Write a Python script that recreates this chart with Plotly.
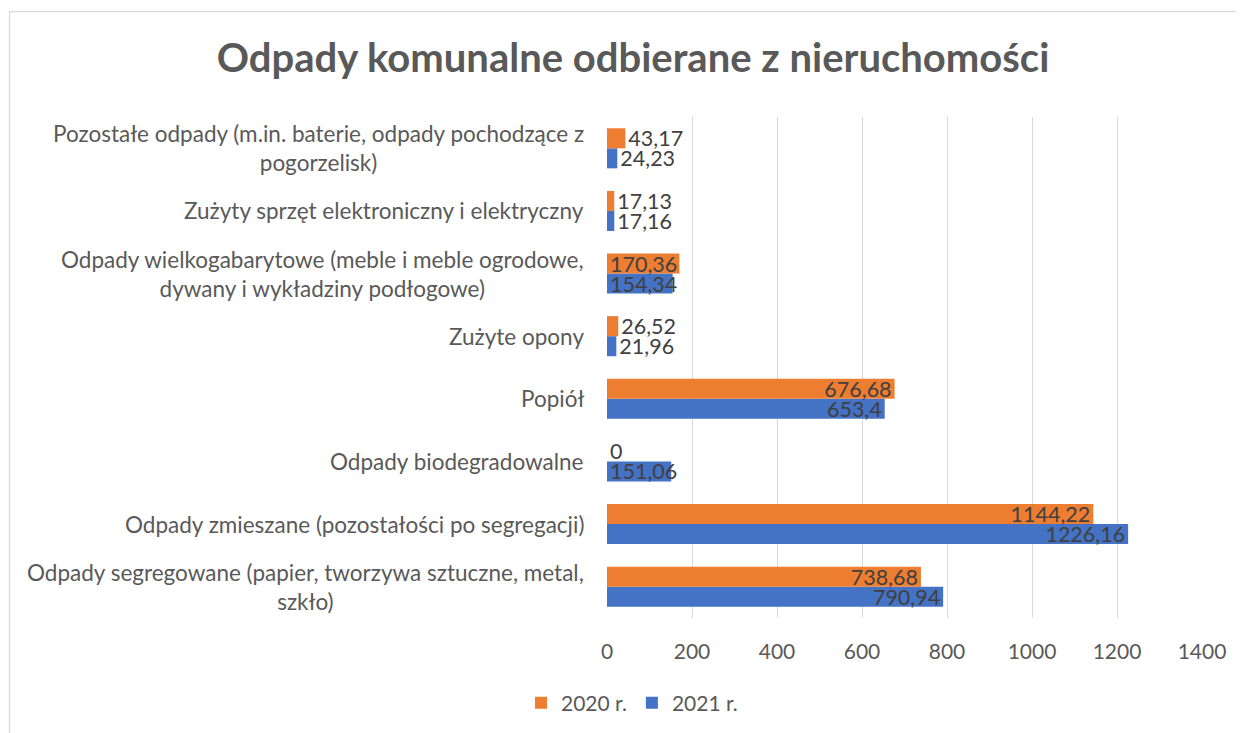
import plotly.graph_objects as go

categories = [
    "Odpady segregowane (papier, tworzywa sztuczne, metal,<br>szkło)",
    "Odpady zmieszane (pozostałości po segregacji)",
    "Odpady biodegradowalne",
    "Popiół",
    "Zużyte opony",
    "Odpady wielkogabarytowe (meble i meble ogrodowe,<br>dywany i wykładziny podłogowe)",
    "Zużyty sprzęt elektroniczny i elektryczny",
    "Pozostałe odpady (m.in. baterie, odpady pochodzące z<br>pogorzelisk)",
]
values_2020 = [738.68, 1144.22, 0, 676.68, 26.52, 170.36, 17.13, 43.17]
values_2021 = [790.94, 1226.16, 151.06, 653.4, 21.96, 154.34, 17.16, 24.23]
x_ticks = [0, 200, 400, 600, 800, 1000, 1200, 1400]

FONT = "Lato"
TXT = "#404040"
LBL = "#595959"

def fmt(v):
    s = f"{v:.2f}".rstrip("0").rstrip(".")
    return s.replace(".", ",")

cat_ids = list(range(len(categories)))

W, H = 1236, 725
PL, PR, PT, PB = 599, 1194, 109, 610
pw, ph = PR - PL, PB - PT

def px_x(p):
    return (p - PL) / pw

def px_y(p):
    return (PB - p) / ph

fig = go.Figure()
tf = dict(family=FONT, size=21.5, color=TXT)
for name, vals, color, rank in [("2021 r.", values_2021, "#4472C4", 2),
                                ("2020 r.", values_2020, "#ED7D31", 1)]:
    big = [v if v >= 500 else None for v in vals]
    small = [v if v < 500 else None for v in vals]
    # long bars: label inside, at the bar end
    fig.add_trace(go.Bar(
        y=cat_ids, x=big, orientation="h", name=name,
        offsetgroup=name, legendgroup=name, legendrank=rank,
        marker=dict(color=color, line=dict(width=0)),
        text=[fmt(v) if v is not None else "" for v in big],
        textposition="inside", insidetextanchor="end",
        constraintext="none", textangle=0, cliponaxis=False,
        textfont=tf, insidetextfont=tf, outsidetextfont=tf,
    ))
    # short bars: label starts near the axis
    fig.add_trace(go.Bar(
        y=cat_ids, x=small, orientation="h", name=name,
        offsetgroup=name, legendgroup=name, showlegend=False,
        marker=dict(color=color, line=dict(width=0)),
        text=[fmt(v) if v is not None else "" for v in small],
        textposition=["inside" if (v is not None and v >= 100) else "outside" for v in small],
        insidetextanchor="start",
        constraintext="none", textangle=0, cliponaxis=False,
        textfont=tf, insidetextfont=tf, outsidetextfont=tf,
    ))

annotations = []
for i, c in enumerate(categories):
    annotations.append(dict(
        x=0, xref="paper", y=i, yref="y", text=c, showarrow=False,
        xanchor="right", yanchor="middle", align="center", xshift=-21,
        font=dict(family=FONT, size=22.5, color=LBL),
    ))

fig.update_layout(
    width=W, height=H,
    margin=dict(l=PL, r=W - PR, t=PT, b=H - PB),
    paper_bgcolor="white", plot_bgcolor="white",
    barmode="group", bargap=0.36, bargroupgap=0,
    title=dict(text="<b>Odpady komunalne odbierane z nieruchomości</b>",
               x=625 / W, xanchor="center", y=1 - 50 / H, yanchor="middle",
               font=dict(family=FONT, size=40, color=LBL)),
    xaxis=dict(range=[0, 1400], tickvals=x_ticks, ticktext=[str(t) for t in x_ticks],
               showgrid=True, gridcolor="#d9d9d9", gridwidth=1.3, zeroline=False,
               showline=False, ticks="", ticklabelstandoff=19,
               tickfont=dict(family=FONT, size=21, color=LBL)),
    yaxis=dict(tickvals=cat_ids, showticklabels=False, showgrid=False,
               zeroline=False, showline=False, range=[-0.5, len(categories) - 0.5]),
    legend=dict(orientation="h", xref="container", yref="container",
                x=624 / W, xanchor="center", y=1 - 695 / H,
                yanchor="middle", font=dict(family=FONT, size=21, color=LBL),
                itemwidth=30, traceorder="normal"),
    annotations=annotations,
    shapes=[dict(type="rect", xref="paper", yref="paper",
                 x0=px_x(1.5), x1=px_x(1400), y0=px_y(900), y1=px_y(3.7),
                 line=dict(color="#d9d9d9", width=1.3), fillcolor="rgba(0,0,0,0)",
                 layer="below")],
    showlegend=True,
)

fig.write_html("out.html")
